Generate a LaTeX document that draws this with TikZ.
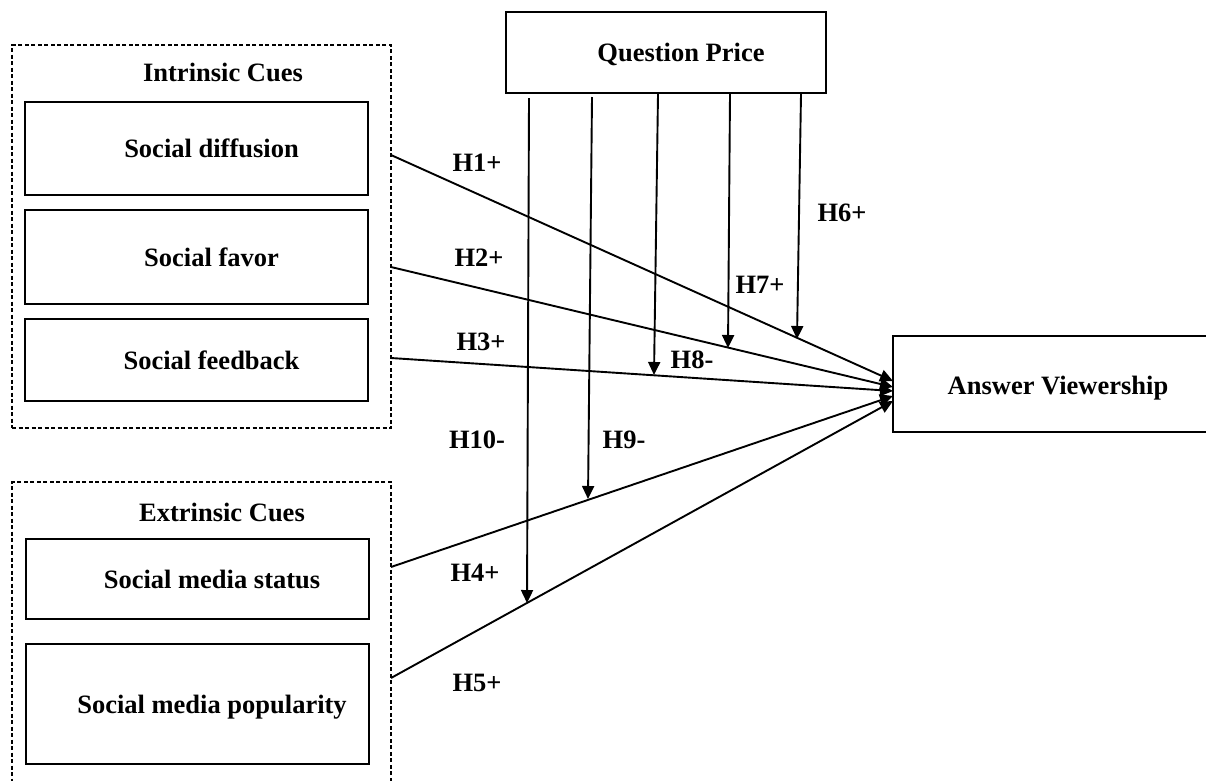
\documentclass[tikz,border=0pt]{standalone}
\usepackage{fontspec}
\setmainfont{Liberation Serif}
\usetikzlibrary{arrows.meta}

\begin{document}
\begin{tikzpicture}[x=1pt,y=-1pt,font=\fontsize{26.5}{30}\selectfont\bfseries]
	\tikzstyle{group} = [draw=black, line width=1.4pt, dash pattern=on 4pt off 2.5pt, inner sep=0pt]
	\tikzstyle{cue} = [draw=black, line width=2pt, minimum width=343pt, inner sep=0pt]
	\tikzstyle{hyp} = [draw=black, line width=1.9pt, -{Triangle[length=13pt,width=12pt]}]
	\useasboundingbox (0,0) rectangle (1206,780);
	% cue groups
		\node[group, minimum width=379pt, minimum height=383pt] (intr) at (201.5,236.5) {};
		\node[group, minimum width=379pt, minimum height=330pt] (extr) at (201.5,647) {};
		\node[] (intrt) at (223,72) {Intrinsic Cues};
		\node[] (extrt) at (222,512) {Extrinsic Cues};
	% cue boxes
		\node[cue, minimum height=93pt]  (diff) at (196.5,148.5) [label={[xshift=15pt]center:Social diffusion}] {};
		\node[cue, minimum height=94pt]  (favo) at (196.5,257)   [label={[xshift=15pt]center:Social favor}] {};
		\node[cue, minimum height=82pt]  (feed) at (196.5,360)   [label={[xshift=15pt]center:Social feedback}] {};
		\node[cue, minimum height=80pt]  (stat) at (197,579)     [label={[xshift=15pt]center:Social media status}] {};
		\node[cue, minimum height=120pt] (popu) at (197,704)     [label={[xshift=15pt,yshift=-3pt]center:Social media popularity}] {};
		\node[cue, minimum width=320pt, minimum height=81pt] (qp) at (666,52.5) [label={[xshift=15pt,yshift=-2pt]center:Question Price}] {};
		\node[cue, minimum width=314pt, minimum height=96pt] (av) at (1050,384) [label={[xshift=8pt,yshift=-4pt]center:Answer Viewership}] {};
	% end points
		\coordinate (s1) at (391,155);
		\coordinate (s2) at (391,267);
		\coordinate (s3) at (391,358);
		\coordinate (s4) at (391,567);
		\coordinate (s5) at (391,678);
		\coordinate (t1) at (893,381);
		\coordinate (t2) at (893,387);
		\coordinate (t3) at (893,391);
		\coordinate (t4) at (893,396);
		\coordinate (t5) at (893,401);
		\coordinate (p6) at (801,94);
		\coordinate (p7) at (730,94);
		\coordinate (p8) at (658,94);
		\coordinate (p9) at (592,97);
		\coordinate (p10) at (529,98);
		\coordinate (m6) at (797,339);
		\coordinate (m7) at (728,348);
		\coordinate (m8) at (654,375);
		\coordinate (m9) at (588,499);
		\coordinate (m10) at (527,603);
	\draw[hyp] (s1) -- (t1);
	\draw[hyp] (s2) -- (t2);
	\draw[hyp] (s3) -- (t3);
	\draw[hyp] (s4) -- (t4);
	\draw[hyp] (s5) -- (t5);
	\draw[hyp] (p6) -- (m6);
	\draw[hyp] (p7) -- (m7);
	\draw[hyp] (p8) -- (m8);
	\draw[hyp] (p9) -- (m9);
	\draw[hyp] (p10) -- (m10);
	% hypothesis labels
		\node[] (h1) at (477,163) {H1+};
		\node[] (h2) at (479,258) {H2+};
		\node[] (h3) at (481,342) {H3+};
		\node[] (h4) at (475,573) {H4+};
		\node[] (h5) at (477,683) {H5+};
		\node[] (h6) at (842,213) {H6+};
		\node[] (h7) at (760,285) {H7+};
		\node[] (h8) at (692,360) {H8-};
		\node[] (h9) at (624,440) {H9-};
		\node[] (h10) at (477,440) {H10-};
\end{tikzpicture}
\end{document}
